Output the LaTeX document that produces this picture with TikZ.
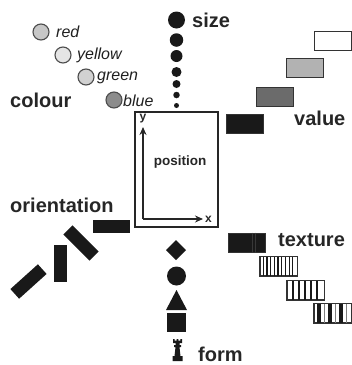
\documentclass[tikz,border=0pt]{standalone}
\usepackage{fontspec}
\setmainfont{Liberation Sans}
\usetikzlibrary{arrows.meta,calc}
\begin{document}
\begin{tikzpicture}[x=1pt,y=-1pt,
  lbl/.style={font=\fontsize{20}{20}\selectfont\bfseries, inner sep=0, anchor=west, text=black!85},
  clbl/.style={font=\fontsize{16}{16}\selectfont\itshape, inner sep=0, anchor=west, text=black!88},
  dot/.style={circle, fill=black!90, inner sep=0},
  cdot/.style={circle, draw=black!70, line width=1.1pt, minimum size=16pt, inner sep=0},
  bar/.style={fill=black!90, minimum width=37pt, minimum height=13pt, inner sep=0},
  vrect/.style={draw=black!80, line width=1pt, minimum width=37pt, minimum height=19pt, inner sep=0},
  formshape/.style={fill=black!90, inner sep=0},
  axis/.style={line width=1.5pt, draw=black!85, -{Stealth[length=8pt,width=7pt]}},
]
\useasboundingbox (0,0) rectangle (352,365);

% colour
\node[cdot, fill=black!22] (cred) at (41,32) {};
\node[clbl] (lred) at (56,32) {red};
\node[cdot, fill=black!10] (cyel) at (63,55) {};
\node[clbl] (lyel) at (77,55) {yellow};
\node[cdot, fill=black!18] (cgre) at (86,77) {};
\node[clbl] (lgre) at (97,78) {green};
\node[cdot, fill=black!45] (cblu) at (114,100) {};
\node[clbl] (lblu) at (123,101) {blue};
\node[lbl] (colour) at (10,100) {colour};

% size
\node[dot, minimum size=17pt] (s1) at (176.5,20) {};
\node[dot, minimum size=13.5pt] (s2) at (176.5,40) {};
\node[dot, minimum size=12pt] (s3) at (176.5,56) {};
\node[dot, minimum size=10pt] (s4) at (176.5,72) {};
\node[dot, minimum size=8pt] (s5) at (176.5,84) {};
\node[dot, minimum size=6.5pt] (s6) at (176.5,95) {};
\node[dot, minimum size=5pt] (s7) at (176.5,105.5) {};
\node[lbl] (size) at (192,20) {size};

% position
\node[draw=black!85, line width=1.5pt, minimum width=83pt, minimum height=115pt, inner sep=0] (posbox) at (176.5,169.5) {};
\coordinate (o) at (143,219);
\coordinate (ytip) at (143,127);
\coordinate (xtip) at (203,219);
\draw[axis] (o) -- (ytip);
\draw[axis] (o) -- (xtip);
\node[font=\fontsize{12}{12}\selectfont\bfseries, inner sep=0, text=black!85] (ylab) at (143,118.5) {y};
\node[font=\fontsize{12}{12}\selectfont\bfseries, inner sep=0, text=black!85] (xlab) at (208.5,219) {x};
\node[font=\fontsize{13.5}{13.5}\selectfont\bfseries, inner sep=0, text=black!85] (poslab) at (180,162) {position};

% value
\node[vrect, fill=white] (v1) at (332.5,40.5) {};
\node[vrect, fill=black!30] (v2) at (304.5,68) {};
\node[vrect, fill=black!58] (v3) at (274.5,97) {};
\node[vrect, fill=black!90] (v4) at (244.5,124) {};
\node[lbl] (value) at (294,118) {value};

% orientation
\node[lbl] (orient) at (10,205) {orientation};
\node[bar] (o1) at (111.5,226.5) {};
\node[bar, rotate=-45] (o2) at (81,243) {};
\node[bar, rotate=90] (o3) at (60,263.5) {};
\node[bar, rotate=42] (o4) at (28.5,281.5) {};

% texture
\node[vrect, fill=black!90] (t1) at (246.5,242.5) {};
\draw[black!78, line width=0.4pt] ([xshift=25pt]t1.north west) -- ([xshift=25pt]t1.south west);
\draw[black!78, line width=0.4pt] ([xshift=28pt]t1.north west) -- ([xshift=28pt]t1.south west);
\node[vrect, fill=white] (t2) at (278.5,266) {};
\foreach \i in {1,...,9}
  \fill[black!90] ([xshift=\i*3.7pt-0.6pt]t2.north west) rectangle ([xshift=\i*3.7pt+0.6pt]t2.south west);
\node[vrect, fill=white] (t3) at (305.5,290) {};
\foreach \i in {1,...,5}
  \fill[black!90] ([xshift=\i*6.17pt-1pt]t3.north west) rectangle ([xshift=\i*6.17pt+1pt]t3.south west);
\node[vrect, fill=white] (t4) at (332.5,313) {};
\foreach \i in {0,1,2}
  \fill[black!90] ([xshift=\i*10.8pt+3.8pt]t4.north west) rectangle ([xshift=\i*10.8pt+7.8pt]t4.south west);
\foreach \i in {0,1,2}
  \fill[black!50] ([xshift=\i*10.8pt+10.5pt]t4.north west) rectangle ([xshift=\i*10.8pt+11.1pt]t4.south west);
\draw[draw=black!80, line width=1pt] (t2.north west) rectangle (t2.south east);
\draw[draw=black!80, line width=1pt] (t3.north west) rectangle (t3.south east);
\draw[draw=black!80, line width=1pt] (t4.north west) rectangle (t4.south east);
\node[lbl] (texture) at (278,240) {texture};

% form
\coordinate (f1) at (176,250);
\fill[black!90] (f1) +(0,-10) -- +(10,0) -- +(0,10) -- +(-10,0) -- cycle;
\node[formshape, circle, minimum size=19pt] (f2) at (176.5,276) {};
\fill[black!90] (176.5,290) -- (187,310) -- (166,310) -- cycle;
\node[formshape, minimum size=19pt] (f4) at (176.5,322.5) {};
\fill[black!90] (173,339) -- (174.6,339) -- (174.6,340.5) -- (176.6,340.5) -- (176.6,339) -- (178.4,339) -- (178.4,340.5) -- (180.4,340.5) -- (180.4,339) -- (182,339) -- (182,343) -- (179.5,343) -- (179.5,345) -- (181,345) -- (181,347) -- (179.5,347) -- (180.5,356) -- (182.5,356) -- (182.5,361) -- (172.5,361) -- (172.5,356) -- (174.5,356) -- (175.5,347) -- (174,347) -- (174,345) -- (175.5,345) -- (175.5,343) -- (173,343) -- cycle;
\node[lbl] (form) at (198,354) {form};
\end{tikzpicture}
\end{document}
